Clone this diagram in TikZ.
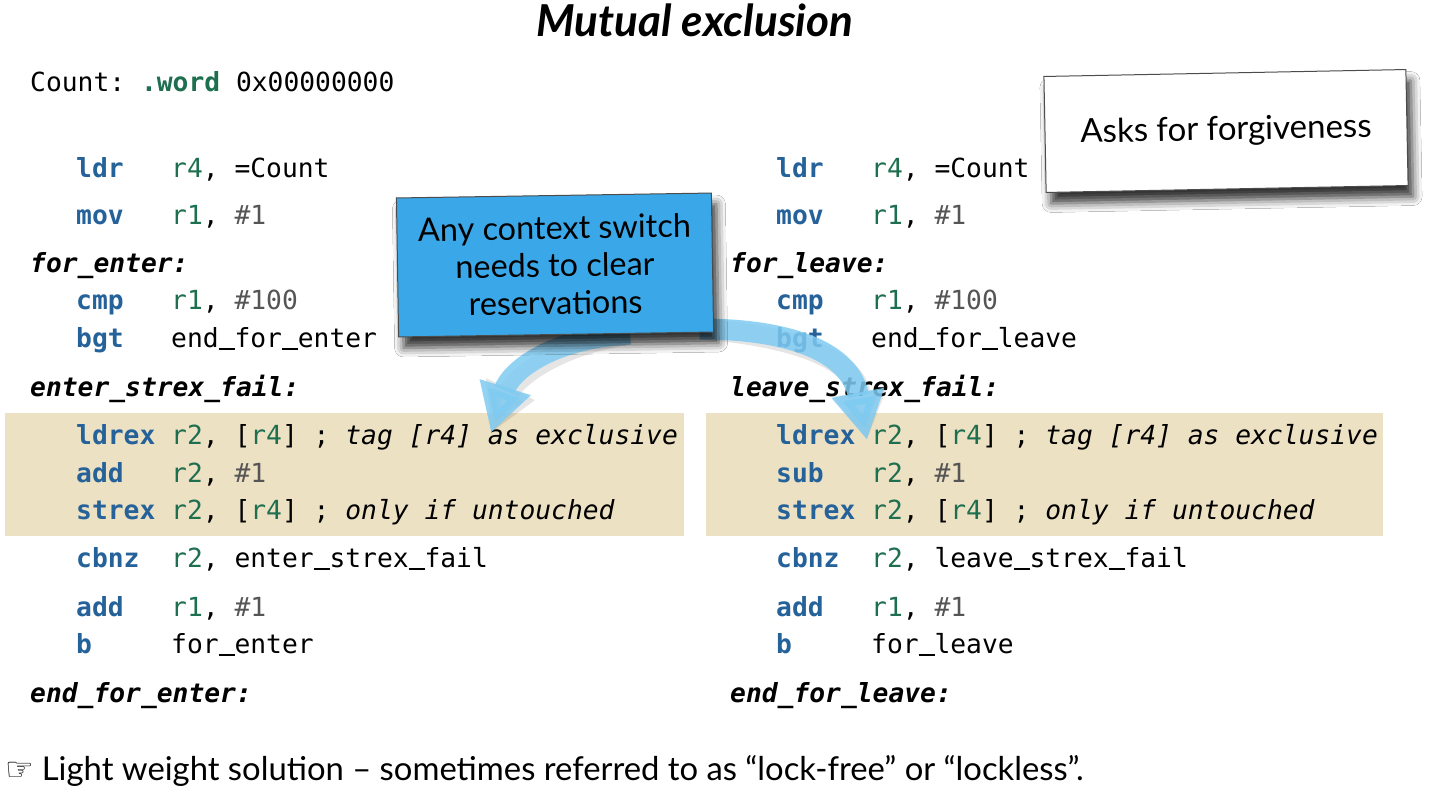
\documentclass[tikz,border=0pt]{standalone}
\usepackage{fontspec}
\setmainfont{Lato}
\setmonofont{DejaVu Sans Mono}
\newfontfamily\symfont{DejaVu Sans}
\usetikzlibrary{arrows.meta,shadows.blur}

\definecolor{mnblue}{HTML}{25629A}
\definecolor{reggreen}{HTML}{1E6F4F}
\definecolor{immgray}{HTML}{555555}
\definecolor{codetan}{HTML}{EDE1C4}
\definecolor{callblue}{HTML}{3AA8E8}
\definecolor{arrowblue}{HTML}{7FCBF2}

\newcommand\mn[1]{\textbf{\color{mnblue}#1}}
\newcommand\rg[1]{{\color{reggreen}#1}}
\newcommand\im[1]{{\color{immgray}#1}}
\newcommand\cm[1]{\textit{#1}}
\newcommand\us{\makebox[15.83pt][l]{\rule[-3pt]{15.83pt}{1.9pt}}}
\newcommand\asm[2]{\makebox[95pt][l]{\mn{#1}}#2}

\tikzset{
  code/.style={anchor=base west, inner sep=0pt,
    font=\ttfamily\fontsize{26.3}{38}\selectfont\frenchspacing},
  codelbl/.style={code, font=\ttfamily\fontsize{26.3}{38}\selectfont\bfseries\itshape},
  fatarrow/.style={line width=21pt, draw=arrowblue, opacity=0.85,
    -{Triangle[width=50pt,length=48pt]}},
  fatshadow/.style={fatarrow, draw=black, opacity=0.10, xshift=5pt, yshift=-7pt},
  callout/.style={draw=black!70, line width=1pt, fill=callblue, align=center,
    minimum width=315pt, minimum height=139pt, inner sep=0pt,
    font=\fontsize{32.4}{37.5}\selectfont,
    blur shadow={shadow xshift=5pt, shadow yshift=-11pt, shadow blur radius=9pt, shadow opacity=80}},
  notebox/.style={callout, fill=white, minimum width=362pt, minimum height=116pt,
    font=\fontsize{33}{38}\selectfont}
}

\begin{document}
\begin{tikzpicture}[x=1pt, y=-1pt]
	\fill[white] (0,0) rectangle (1429,792);
	\useasboundingbox (0,0) rectangle (1429,792);
	
	% Title
	\node[anchor=base, font=\fontsize{44}{52}\selectfont\bfseries\itshape] (title) at (695,37) {Mutual exclusion};
	
	% Exclusive blocks
	\fill[codetan] (5,413) rectangle (684,536);
	\fill[codetan] (706,413) rectangle (1383,536);
	
	% Left column
	\node[code] (count) at (30,92) {Count: \textbf{\color{reggreen}.word} 0x00000000};
	\node[code] (eldr) at (76,177) {\asm{ldr}{\rg{r4}, =Count}};
	\node[code] (emov) at (76,224) {\asm{mov}{\rg{r1}, \im{\#1}}};
	\node[codelbl] (efor) at (30,272) {for\_enter:};
	\node[code] (ecmp) at (76,309) {\asm{cmp}{\rg{r1}, \im{\#100}}};
	\node[code] (ebgt) at (76,347) {\asm{bgt}{end\us for\us enter}};
	\node[codelbl] (efail) at (30,396) {enter\_strex\_fail:};
	\node[code] (eldrex) at (76,444) {\asm{ldrex}{\rg{r2}, [\rg{r4}] ; \cm{tag [r4] as exclusive}}};
	\node[code] (eadd) at (76,482) {\asm{add}{\rg{r2}, \im{\#1}}};
	\node[code] (estrex) at (76,519) {\asm{strex}{\rg{r2}, [\rg{r4}] ; \cm{only if untouched}}};
	\node[code] (ecbnz) at (76,567) {\asm{cbnz}{\rg{r2}, enter\us strex\us fail}};
	\node[code] (einc) at (76,616) {\asm{add}{\rg{r1}, \im{\#1}}};
	\node[code] (eb) at (76,653) {\asm{b}{for\us enter}};
	\node[codelbl] (eend) at (30,702) {end\_for\_enter:};
	
	% Right column
	\node[code] (lldr) at (776,177) {\asm{ldr}{\rg{r4}, =Count}};
	\node[code] (lmov) at (776,224) {\asm{mov}{\rg{r1}, \im{\#1}}};
	\node[codelbl] (lfor) at (730,272) {for\_leave:};
	\node[code] (lcmp) at (776,309) {\asm{cmp}{\rg{r1}, \im{\#100}}};
	\node[code] (lbgt) at (776,347) {\asm{bgt}{end\us for\us leave}};
	\node[codelbl] (lfail) at (730,396) {leave\_strex\_fail:};
	\node[code] (lldrex) at (776,444) {\asm{ldrex}{\rg{r2}, [\rg{r4}] ; \cm{tag [r4] as exclusive}}};
	\node[code] (lsub) at (776,482) {\asm{sub}{\rg{r2}, \im{\#1}}};
	\node[code] (lstrex) at (776,519) {\asm{strex}{\rg{r2}, [\rg{r4}] ; \cm{only if untouched}}};
	\node[code] (lcbnz) at (776,567) {\asm{cbnz}{\rg{r2}, leave\us strex\us fail}};
	\node[code] (linc) at (776,616) {\asm{add}{\rg{r1}, \im{\#1}}};
	\node[code] (lb) at (776,653) {\asm{b}{for\us leave}};
	\node[codelbl] (lend) at (730,702) {end\_for\_leave:};
	
	% Arrows
	\coordinate (lstart) at (630,334);
	\coordinate (ltip) at (491,433);
	\coordinate (rstart) at (700,329);
	\coordinate (rtip) at (867,440);
	\draw[fatshadow] (lstart) .. controls (550,338) and (510,372) .. (ltip);
	\draw[fatshadow] (rstart) .. controls (790,329) and (850,352) .. (rtip);
	\draw[fatarrow] (lstart) .. controls (550,338) and (510,372) .. (ltip);
	\draw[fatarrow] (rstart) .. controls (790,329) and (850,352) .. (rtip);
	
	% Boxes
	\node[callout, rotate=0.9] (switch) at (555,265) {Any context switch\\needs to clear\\reservations};
	\node[notebox, rotate=1.1] (forgive) at (1226,131) {Asks for forgiveness};
	
	% Bottom line
	\node[anchor=base west, inner sep=0pt, font=\fontsize{32.8}{40}\selectfont] (bullet) at (5,780)
		{{\symfont\fontsize{32}{36}\selectfont ☞}\hspace{8pt}Light weight solution – sometimes referred to as “lock-free” or “lockless”.};
	
\end{tikzpicture}
\end{document}
